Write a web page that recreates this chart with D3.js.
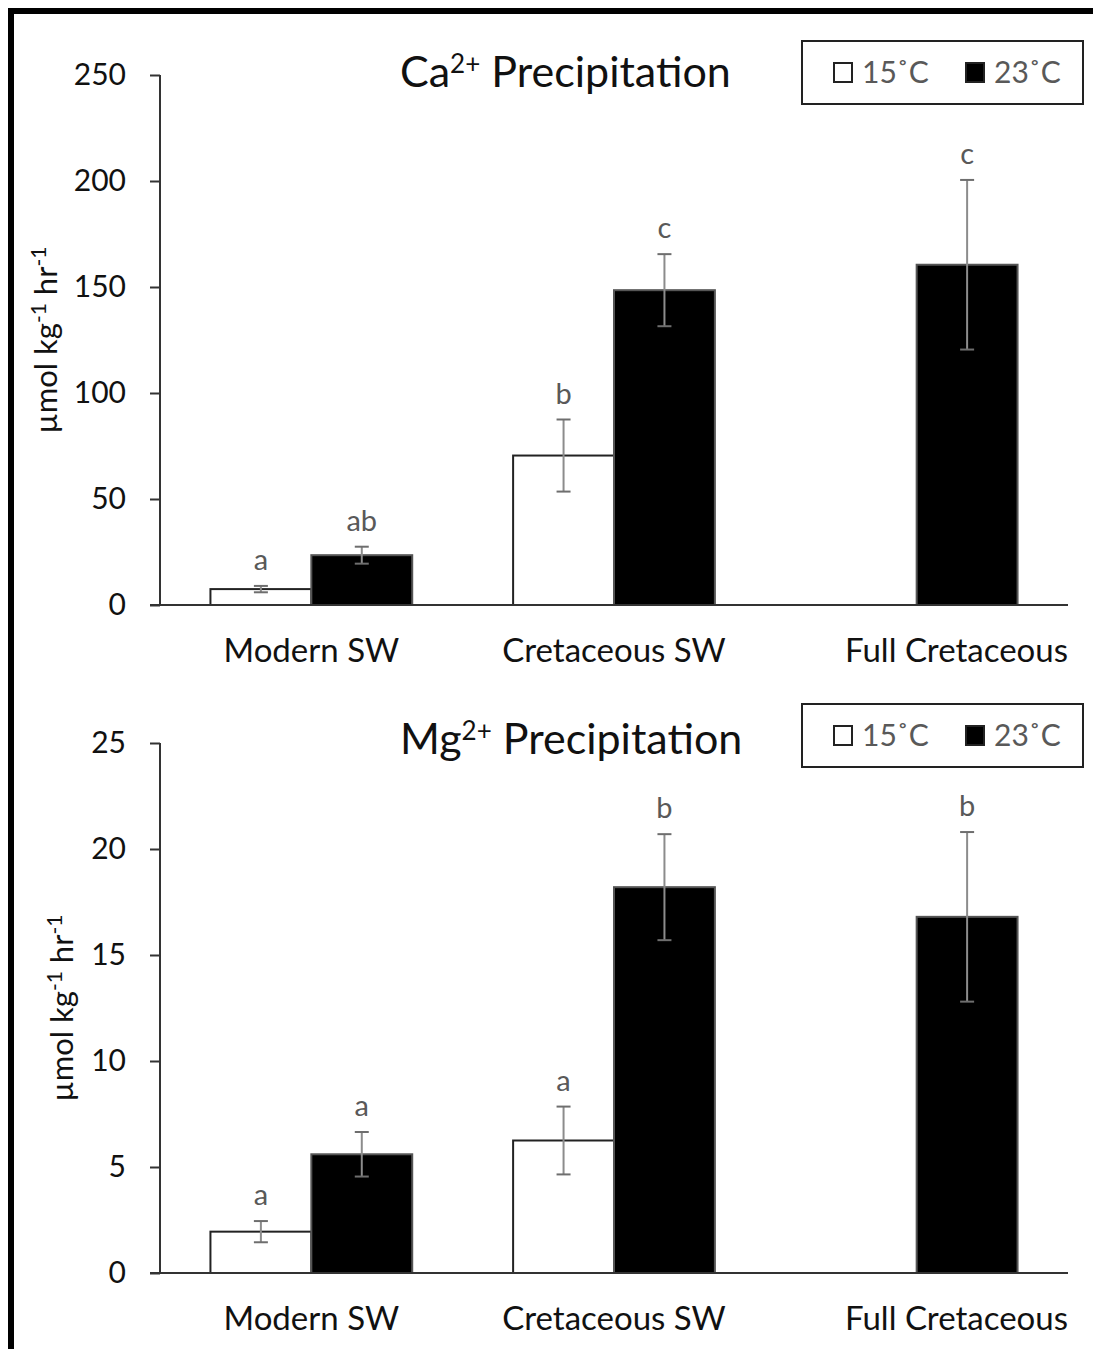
<!DOCTYPE html>
<html>
<head>
<meta charset="utf-8">
<script src="https://cdn.jsdelivr.net/npm/d3@7"></script>
<style>
  body { margin: 0; background: #fff; }
  svg { display: block; font-family: Lato, "Open Sans", sans-serif; }
</style>
</head>
<body>
<div id="chart"></div>
<script>
// categories and series
var categories = ["Modern SW", "Cretaceous SW", "Full Cretaceous"];
var series = ["15˚C", "23˚C"];

// Ca2+ precipitation (umol kg-1 hr-1)
var caMean15 = [7.5, 70.5, 0];
var caErr15 = [1.5, 17, 0];
var caMean23 = [23.5, 148.5, 160.5];
var caErr23 = [4, 17, 40];
var caLetters15 = ["a", "b", ""];
var caLetters23 = ["ab", "c", "c"];
var caTicks = [0, 50, 100, 150, 200, 250];

// Mg2+ precipitation
var mgMean15 = [1.95, 6.25, 0];
var mgErr15 = [0.5, 1.6, 0];
var mgMean23 = [5.6, 18.2, 16.8];
var mgErr23 = [1.05, 2.5, 4];
var mgLetters15 = ["a", "a", ""];
var mgLetters23 = ["a", "b", "b"];
var mgTicks = [0, 5, 10, 15, 20, 25];

var W = 1096, H = 1349;
var svg = d3.select("#chart").append("svg")
	.attr("width", W)
	.attr("height", H);

// outer frame (right and bottom edges cut off in the original)
svg.append("path")
	.attr("d", "M11," + (H + 5) + "V11H1093")
	.attr("fill", "none")
	.attr("stroke", "#000")
	.attr("stroke-width", 6);

function drawPanel(p) {
	var x = d3.scaleBand().domain(categories).range([160, 1068]);
	var bw = x.bandwidth();
	var xs = d3.scaleBand().domain(series).range([bw / 6, bw * 5 / 6]);
	var y = d3.scaleLinear().domain([0, p.max]).range([p.bottom, p.top]);

	var rows = [];
	categories.forEach(function(c, i) {
		rows.push({cat: c, s: series[0], v: p.mean15[i], e: p.err15[i], l: p.let15[i]});
		rows.push({cat: c, s: series[1], v: p.mean23[i], e: p.err23[i], l: p.let23[i]});
	});
	rows = rows.filter(function(d) { return d.v > 0; });

	var g = svg.append("g");

	// y axis
	var yAxis = d3.axisLeft(y).tickValues(p.ticks).tickSize(10).tickPadding(24);
	var ya = g.append("g")
		.attr("transform", "translate(160,0)")
		.call(yAxis);
	ya.select(".domain").attr("stroke", "#333").attr("stroke-width", 2).attr("d", "M0," + p.bottom + "V" + p.top);
	ya.selectAll(".tick line").attr("stroke", "#333").attr("stroke-width", 2);
	ya.selectAll(".tick text")
		.attr("font-size", 30)
		.attr("fill", "#111")
		.attr("font-family", "Lato, sans-serif");

	// bars
	g.selectAll(".bar").data(rows).enter().append("rect")
		.attr("x", function(d) { return x(d.cat) + xs(d.s); })
		.attr("y", function(d) { return y(d.v); })
		.attr("width", xs.bandwidth())
		.attr("height", function(d) { return p.bottom - y(d.v); })
		.attr("fill", function(d) { return d.s === series[0] ? "#fff" : "#000"; })
		.attr("stroke", function(d) { return d.s === series[0] ? "#222" : "#555"; })
		.attr("stroke-width", 2);

	// x axis line
	g.append("line")
		.attr("x1", 150).attr("x2", 1068)
		.attr("y1", p.bottom).attr("y2", p.bottom)
		.attr("stroke", "#333").attr("stroke-width", 2);

	// error bars
	var eb = g.selectAll(".err").data(rows).enter().append("g")
		.attr("transform", function(d) { return "translate(" + (x(d.cat) + xs(d.s) + xs.bandwidth() / 2) + ",0)"; });
	eb.append("line")
		.attr("y1", function(d) { return y(d.v + d.e); })
		.attr("y2", function(d) { return y(d.v - d.e); })
		.attr("stroke", "#8c8c8c").attr("stroke-width", 2);
	eb.selectAll(".cap").data(function(d) { return [d.v + d.e, d.v - d.e]; }).enter().append("line")
		.attr("x1", -7).attr("x2", 7)
		.attr("y1", function(v) { return y(v); })
		.attr("y2", function(v) { return y(v); })
		.attr("stroke", "#6e6e6e").attr("stroke-width", 2);

	// significance letters
	g.selectAll(".letter").data(rows).enter().append("text")
		.attr("x", function(d) { return x(d.cat) + xs(d.s) + xs.bandwidth() / 2; })
		.attr("y", function(d) { return y(d.v + d.e) - 16; })
		.attr("text-anchor", "middle")
		.attr("font-size", 29)
		.attr("fill", "#595959")
		.text(function(d) { return d.l; });

	// category labels; the last one sits flush with the axis end, as in the original
	var last = categories[categories.length - 1];
	g.selectAll(".cat").data(categories).enter().append("text")
		.attr("y", p.bottom + 57)
		.attr("text-anchor", function(d) { return d === last ? "end" : "middle"; })
		.attr("x", function(d) { return d === last ? x.range()[1] : x(d) + bw / 2; })
		.attr("font-size", 33)
		.attr("fill", "#111")
		.text(function(d) { return d; });

	// title
	var t = g.append("text")
		.attr("x", 400)
		.attr("y", p.titleY)
		.attr("font-size", 43)
		.attr("fill", "#111");
	t.append("tspan").text(p.ion);
	t.append("tspan").attr("dy", -14).attr("font-size", 26).text("2+");
	t.append("tspan").attr("dy", 14).text(" Precipitation");

	// y label
	var yl = g.append("text")
		.attr("transform", "translate(" + p.ylabX + "," + (p.bottom + p.top) / 2 + ") rotate(-90)")
		.attr("text-anchor", "middle")
		.attr("font-size", 31)
		.attr("fill", "#111");
	yl.append("tspan").text("µmol kg");
	yl.append("tspan").attr("dy", -11).attr("font-size", 21).text("-1");
	yl.append("tspan").attr("dy", 11).text(" hr");
	yl.append("tspan").attr("dy", -11).attr("font-size", 21).text("-1");

	// legend
	var lg = g.append("g").attr("transform", "translate(802," + p.legY + ")");
	lg.append("rect")
		.attr("width", 281).attr("height", 63)
		.attr("fill", "#fff").attr("stroke", "#222").attr("stroke-width", 2);
	var items = lg.selectAll(".item").data(series).enter().append("g")
		.attr("transform", function(d, i) { return "translate(" + (32 + i * 132) + ",0)"; });
	items.append("rect")
		.attr("y", 22).attr("width", 18).attr("height", 19)
		.attr("fill", function(d, i) { return i ? "#000" : "#fff"; })
		.attr("stroke", "#222").attr("stroke-width", 2);
	items.append("text")
		.attr("x", 28).attr("y", 42)
		.attr("font-size", 30)
		.attr("fill", "#595959")
		.text(function(d) { return d; });
}

drawPanel({
	top: 75, bottom: 605, max: 250, ticks: caTicks,
	mean15: caMean15, err15: caErr15, mean23: caMean23, err23: caErr23,
	let15: caLetters15, let23: caLetters23,
	ion: "Ca", titleY: 87, ylabX: 57, legY: 41
});
drawPanel({
	top: 743, bottom: 1273, max: 25, ticks: mgTicks,
	mean15: mgMean15, err15: mgErr15, mean23: mgMean23, err23: mgErr23,
	let15: mgLetters15, let23: mgLetters23,
	ion: "Mg", titleY: 754, ylabX: 73, legY: 704
});
</script>
</body>
</html>
